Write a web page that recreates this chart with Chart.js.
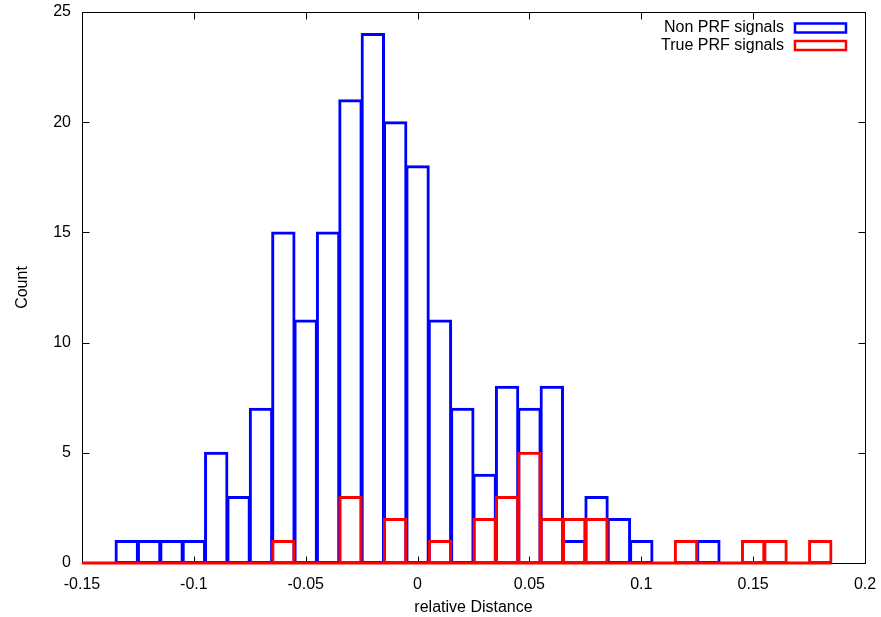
<!DOCTYPE html>
<html lang="en">
<head>
<meta charset="UTF-8">
<title>relative Distance histogram</title>
<script src="https://cdn.jsdelivr.net/npm/chart.js@4.4.1/dist/chart.umd.min.js"></script>
<style>
  html, body { margin: 0; padding: 0; background: #fff; }
  #wrap { width: 881px; height: 617px; position: relative; }
</style>
</head>
<body>
<div id="wrap"><canvas id="chart"></canvas></div>
<script>
// histogram bins (centres), width 0.01
const binCenters = [-0.15, -0.14, -0.13, -0.12, -0.11, -0.10, -0.09, -0.08, -0.07, -0.06,
                    -0.05, -0.04, -0.03, -0.02, -0.01, 0.00, 0.01, 0.02, 0.03, 0.04,
                    0.05, 0.06, 0.07, 0.08, 0.09, 0.10, 0.11, 0.12, 0.13, 0.14,
                    0.15, 0.16, 0.17, 0.18];
const nonPrfCounts = [0, 0, 1, 1, 1, 1, 5, 3, 7, 15,
                      11, 15, 21, 24, 20, 18, 11, 7, 4, 8,
                      7, 8, 1, 3, 2, 1, 0, 0, 1, 0,
                      0, 0, 0, 0];
const truePrfCounts = [0, 0, 0, 0, 0, 0, 0, 0, 0, 1,
                       0, 0, 3, 0, 2, 0, 1, 0, 2, 3,
                       5, 2, 2, 2, 0, 0, 0, 1, 0, 0,
                       1, 1, 0, 1];
const binWidth = 0.01;
const xTickLabels = ['-0.15', '-0.1', '-0.05', '0', '0.05', '0.1', '0.15', '0.2'];
const seriesNames = ['Non PRF signals', 'True PRF signals'];
const seriesColors = ['#0000ff', '#ff0000'];

const FONT = '"Liberation Sans", Arial, Helvetica, sans-serif';
const font = { family: FONT, size: 16 };

function toPoints(counts) {
    return binCenters.map((c, i) => ({ x: c, y: counts[i] }));
}

// red zero line along the bottom, from first bin edge to last bin edge
const baseline = [
    { x: binCenters[0] - binWidth / 2, y: 0 },
    { x: binCenters[binCenters.length - 1] + binWidth / 2, y: 0 }
];

// gnuplot style frame with inward ticks on all four sides
const framePlugin = {
    id: 'frame',
    beforeDatasetsDraw(chart) {
        const { ctx, chartArea: a, scales } = chart;
        const l = Math.round(a.left) + 0.5, r = Math.round(a.right) + 0.5;
        const t = Math.round(a.top) + 0.5, b = Math.round(a.bottom) + 0.5;
        ctx.save();
        ctx.strokeStyle = '#000';
        ctx.lineWidth = 1;
        ctx.strokeRect(l, t, r - l, b - t);
        ctx.beginPath();
        scales.x.ticks.forEach(tk => {
            const px = Math.round(scales.x.getPixelForValue(tk.value)) + 0.5;
            ctx.moveTo(px, b); ctx.lineTo(px, b - 7);
            ctx.moveTo(px, t); ctx.lineTo(px, t + 7);
        });
        scales.y.ticks.forEach(tk => {
            const py = Math.round(scales.y.getPixelForValue(tk.value)) + 0.5;
            ctx.moveTo(l, py); ctx.lineTo(l + 7, py);
            ctx.moveTo(r, py); ctx.lineTo(r - 7, py);
        });
        ctx.stroke();
        ctx.restore();
    },
    afterDatasetsDraw(chart) {
        // key in the top right corner: text then sample box
        const { ctx, chartArea: a } = chart;
        ctx.save();
        ctx.font = '16px ' + FONT;
        ctx.textAlign = 'right';
        ctx.textBaseline = 'middle';
        seriesNames.forEach((name, i) => {
            const y = a.top + 16 + i * 17.5;
            ctx.fillStyle = '#000';
            ctx.fillText(name, a.right - 81, y);
            ctx.strokeStyle = seriesColors[i];
            ctx.lineWidth = 2.5;
            ctx.strokeRect(a.right - 70, y - 4.5, 51, 9);
        });
        ctx.restore();
    }
};

const barCommon = {
    type: 'bar',
    backgroundColor: 'rgba(0,0,0,0)',
    borderWidth: 1,
    inflateAmount: 1,
    borderSkipped: false,
    grouped: false,
    barPercentage: 1,
    categoryPercentage: 1
};

new Chart(document.getElementById('chart'), {
    data: {
        datasets: [
            {
                type: 'line',
                label: 'zero',
                data: baseline,
                borderColor: seriesColors[1],
                borderWidth: 3,
                pointRadius: 0,
                order: 0,
                clip: { left: 0, right: 0, top: false, bottom: false }
            },
            Object.assign({}, barCommon, {
                label: seriesNames[1],
                data: toPoints(truePrfCounts),
                borderColor: seriesColors[1],
                order: 1
            }),
            Object.assign({}, barCommon, {
                label: seriesNames[0],
                data: toPoints(nonPrfCounts),
                borderColor: seriesColors[0],
                order: 2
            })
        ]
    },
    options: {
        responsive: true,
        maintainAspectRatio: false,
        animation: false,
        events: [],
        layout: { padding: { top: 12, right: 16, left: 0, bottom: 0 } },
        plugins: {
            legend: { display: false },
            tooltip: { enabled: false }
        },
        scales: {
            x: {
                type: 'linear',
                min: -0.15,
                max: 0.2,
                offset: false,
                grid: { display: false, drawTicks: false },
                border: { display: false },
                ticks: {
                    stepSize: 0.05,
                    autoSkip: false,
                    maxRotation: 0,
                    padding: 12,
                    color: '#000',
                    font: font,
                    callback: (v, i) => xTickLabels[i]
                },
                title: {
                    display: true,
                    text: 'relative Distance',
                    color: '#000',
                    font: font,
                    padding: { top: 0, bottom: 0 }
                },
                afterFit: s => {
                    s.height = 54;
                    s.paddingLeft = 0;
                    s.paddingRight = 0;
                }
            },
            y: {
                type: 'linear',
                min: 0,
                max: 25,
                grid: { display: false, drawTicks: false },
                border: { display: false },
                ticks: {
                    stepSize: 5,
                    padding: 11,
                    color: '#000',
                    font: font
                },
                title: {
                    display: true,
                    text: 'Count',
                    color: '#000',
                    font: font,
                    padding: { top: 13, bottom: 0 }
                },
                afterFit: s => {
                    s.width = 82;
                    s.paddingTop = 0;
                    s.paddingBottom = 0;
                }
            }
        }
    },
    plugins: [framePlugin]
});
</script>
</body>
</html>
